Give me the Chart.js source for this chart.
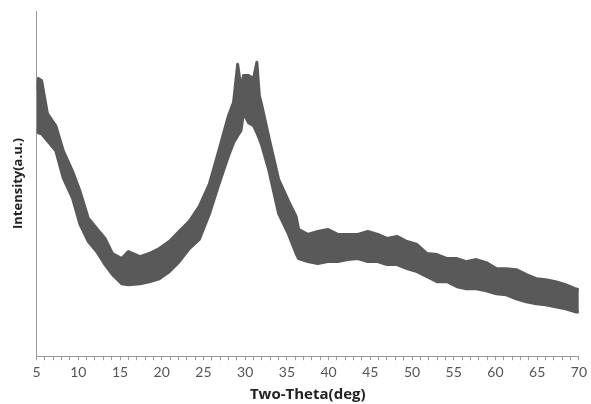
<!DOCTYPE html>
<html>
<head>
<meta charset="utf-8">
<script src="https://cdn.jsdelivr.net/npm/chart.js@4"></script>
<style>
    html, body { margin: 0; padding: 0; background: #ffffff; }
    #chart { display: block; }
</style>
</head>
<body>
<canvas id="chart" width="591" height="404"></canvas>
<script>
// two-theta positions where the band edges were read (deg)
const theta = [
    5.0, 5.2, 5.6, 6.3, 7.3, 8.2, 9.3, 10.2, 11.2, 12.2, 13.2, 14.1, 15.2, 16.0,
    17.4, 18.5, 19.7, 20.9, 22.1, 23.3, 24.5, 25.7, 26.9, 28.0, 28.6, 29.1, 29.5,
    29.8, 30.4, 31.0, 31.4, 31.7, 32.0, 32.8, 34.0, 35.2, 36.1, 36.4, 37.5, 38.7,
    39.9, 41.1, 42.3, 43.5, 44.7, 45.9, 47.0, 48.2, 49.4, 50.6, 51.8, 53.0, 54.2,
    55.4, 56.5, 57.7, 58.9, 60.1, 61.3, 62.5, 63.7, 64.9, 66.0, 67.2, 68.4, 69.6, 70.0
];

// top of the noisy trace (a.u.)
const upperEdge = [
    264, 276, 274, 241, 229, 204, 184, 164, 137, 127, 117, 102, 97, 104,
    99, 102, 107, 114, 124, 134, 149, 171, 206, 239, 252, 290, 266,
    279, 279, 276, 292, 259, 249, 219, 176, 154, 139, 126, 121, 124,
    126, 121, 121, 121, 124, 121, 117, 119, 114, 111, 102, 101, 97,
    97, 94, 96, 93, 87, 87, 86, 81, 77, 76, 74, 71, 67, 66
];

// bottom of the noisy trace (a.u.)
const lowerEdge = [
    226, 222, 221, 214, 204, 177, 157, 131, 114, 104, 91, 81, 72, 71,
    72, 74, 77, 84, 94, 107, 116, 141, 172, 199, 212, 219, 224,
    242, 232, 229, 222, 216, 209, 186, 142, 121, 102, 97, 94, 92,
    94, 94, 96, 97, 94, 94, 91, 91, 87, 84, 79, 74, 74,
    69, 67, 67, 65, 62, 61, 57, 54, 52, 51, 49, 47, 44, 44
];

const xLabelsEvery = 5;
const traceColor = `#595959`;
const axisColor = `#9a9a9a`;

const toPoints = function (values) {
    return theta.map((x, i) => {
        return { x, y: values[i] };
    });
};

const chart = new Chart(document.getElementById(`chart`), {
    type: `line`,
    data: {
        datasets: [
            {
                label: `upper`,
                data: toPoints(upperEdge),
                borderColor: traceColor,
                backgroundColor: traceColor,
                borderWidth: 3,
                borderJoinStyle: `round`,
                pointRadius: 0,
                fill: `+1`,
            },
            {
                label: `lower`,
                data: toPoints(lowerEdge),
                borderColor: traceColor,
                backgroundColor: traceColor,
                borderWidth: 3,
                borderJoinStyle: `round`,
                pointRadius: 0,
                fill: false,
            },
        ],
    },
    options: {
        responsive: false,
        animation: false,
        devicePixelRatio: 1,
        layout: {
            padding: { left: 10, right: 1, top: 11, bottom: 0 },
        },
        plugins: {
            legend: { display: false },
            tooltip: { enabled: false },
        },
        scales: {
            x: {
                type: `linear`,
                min: 5,
                max: 70,
                grid: {
                    display: true,
                    drawOnChartArea: false,
                    drawTicks: true,
                    tickLength: 4,
                    color: axisColor,
                },
                border: { display: true, color: axisColor, width: 1 },
                ticks: {
                    stepSize: 1,
                    autoSkip: false,
                    maxRotation: 0,
                    padding: 4,
                    color: `#555555`,
                    font: { family: `Lato`, size: 14 },
                    callback: value => {
                        return value % xLabelsEvery === 0 ? String(value) : ``;
                    },
                },
                title: {
                    display: true,
                    text: `Two-Theta(deg)`,
                    color: `#222222`,
                    font: { family: `Open Sans`, size: 15, weight: `bold` },
                    padding: { top: 1, bottom: 0 },
                },
            },
            y: {
                min: 0,
                max: 343,
                grid: { display: false },
                border: { display: true, color: axisColor, width: 1 },
                ticks: { display: false },
                title: {
                    display: true,
                    text: `Intensity(a.u.)`,
                    color: `#222222`,
                    font: { family: `Open Sans`, size: 13, weight: `bold` },
                    padding: { top: 0, bottom: 3 },
                },
            },
        },
    },
});
</script>
</body>
</html>
